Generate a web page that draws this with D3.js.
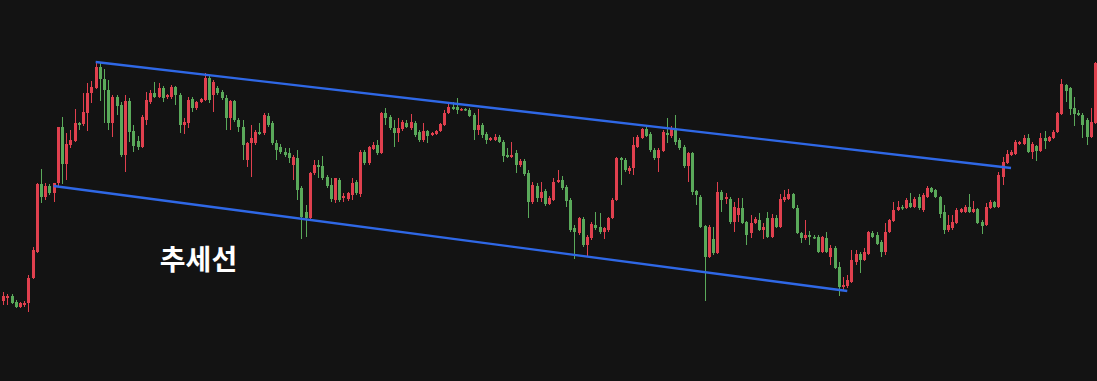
<!DOCTYPE html>
<html>
<head>
<meta charset="utf-8">
<script src="https://cdnjs.cloudflare.com/ajax/libs/d3/7.8.5/d3.min.js"></script>
<style>
	html, body { margin: 0; padding: 0; background: #131313; overflow: hidden; }
	#chart { display: block; }
</style>
</head>
<body>
<svg id="chart"></svg>
<script>

// candle data (one entry per candle, left to right)
let opens = [
	99, 102, 104, 98, 93, 95, 97, 122, 148, 216,
	203, 214, 207, 217, 273, 236, 255, 259, 277, 276,
	287, 307, 312, 333, 321, 310, 277, 303, 295, 245,
	299, 269, 259, 253, 280, 298, 307, 303, 312, 303,
	303, 313, 305, 275, 277, 301, 292, 298, 300, 322,
	305, 312, 308, 302, 282, 299, 280, 273, 240, 257,
	257, 268, 267, 284, 277, 257, 253, 248, 247, 235,
	242, 212, 188, 182, 227, 235, 234, 223, 215, 200,
	220, 202, 201, 205, 218, 206, 248, 237, 251, 255,
	247, 287, 283, 272, 267, 271, 277, 272, 277, 268,
	260, 269, 265, 266, 269, 275, 287, 293, 293, 290,
	291, 290, 285, 270, 275, 266, 260, 260, 263, 258,
	245, 243, 247, 235, 239, 227, 198, 214, 202, 209,
	196, 200, 218, 220, 213, 200, 172, 167, 181, 155,
	162, 175, 173, 168, 170, 182, 200, 242, 240, 229,
	232, 253, 262, 271, 266, 250, 242, 249, 267, 264,
	272, 260, 253, 234, 247, 209, 203, 174, 143, 161,
	147, 208, 201, 201, 178, 185, 192, 178, 167, 177,
	180, 170, 182, 163, 182, 173, 200, 201, 206, 192,
	167, 162, 165, 163, 163, 148, 162, 143, 152, 133,
	113, 114, 118, 138, 146, 140, 146, 167, 165, 158,
	148, 168, 179, 190, 193, 192, 197, 193, 203, 190,
	203, 212, 210, 203, 188, 170, 172, 177, 188, 188,
	193, 188, 191, 178, 175, 192, 198, 193, 223, 237,
	245, 246, 256, 256, 262, 248, 254, 249, 262, 259,
	262, 268, 286, 315, 312, 292, 287, 285, 280, 263,
	277
];
let highs = [
	108, 106, 106, 100, 98, 99, 125, 153, 217, 231,
	217, 216, 217, 273, 283, 267, 270, 291, 278, 307,
	317, 319, 338, 338, 331, 320, 305, 305, 298, 305,
	302, 275, 264, 285, 308, 310, 318, 317, 314, 306,
	315, 314, 307, 282, 303, 303, 299, 302, 327, 324,
	320, 314, 310, 305, 300, 300, 282, 280, 258, 275,
	270, 277, 287, 287, 279, 260, 256, 252, 252, 245,
	250, 214, 195, 228, 240, 240, 244, 225, 222, 222,
	222, 207, 208, 222, 220, 250, 250, 254, 258, 260,
	288, 292, 285, 280, 282, 280, 280, 286, 279, 270,
	277, 270, 268, 270, 277, 290, 297, 298, 302, 292,
	292, 292, 287, 291, 277, 268, 263, 266, 265, 260,
	252, 258, 250, 241, 241, 230, 218, 217, 218, 211,
	204, 222, 230, 224, 215, 202, 175, 183, 183, 165,
	178, 188, 187, 173, 183, 202, 243, 243, 242, 234,
	263, 265, 272, 273, 268, 252, 252, 270, 282, 274,
	285, 262, 255, 248, 248, 210, 205, 175, 175, 173,
	218, 210, 207, 203, 198, 202, 202, 179, 185, 183,
	187, 177, 188, 186, 185, 206, 210, 211, 207, 195,
	168, 180, 169, 165, 165, 164, 168, 155, 154, 138,
	123, 125, 150, 150, 148, 152, 169, 169, 168, 160,
	177, 181, 198, 199, 195, 202, 207, 203, 206, 207,
	214, 213, 211, 204, 195, 185, 185, 192, 192, 195,
	206, 199, 192, 180, 197, 200, 199, 228, 243, 250,
	250, 260, 259, 265, 266, 258, 255, 267, 269, 264,
	270, 288, 321, 316, 313, 303, 290, 287, 282, 292,
	338
];
let lows = [
	95, 95, 96, 92, 92, 93, 88, 121, 147, 197,
	200, 205, 198, 214, 216, 220, 252, 258, 270, 274,
	269, 297, 311, 299, 277, 270, 263, 285, 243, 228,
	258, 248, 250, 252, 275, 296, 302, 302, 298, 301,
	301, 295, 267, 266, 272, 288, 290, 297, 299, 297,
	288, 305, 300, 270, 270, 278, 268, 240, 233, 223,
	255, 265, 265, 273, 255, 240, 246, 243, 237, 220,
	200, 161, 163, 181, 225, 222, 220, 212, 198, 197,
	198, 198, 199, 200, 205, 203, 235, 235, 250, 245,
	246, 275, 270, 253, 258, 269, 272, 270, 263, 258,
	258, 257, 264, 265, 268, 274, 286, 290, 286, 289,
	289, 283, 260, 265, 262, 256, 259, 259, 257, 238,
	242, 242, 227, 233, 224, 182, 196, 198, 198, 194,
	195, 199, 217, 210, 193, 168, 141, 165, 153, 144,
	160, 170, 166, 161, 168, 181, 199, 215, 228, 226,
	225, 252, 261, 263, 248, 240, 228, 248, 257, 262,
	255, 250, 232, 218, 205, 195, 172, 99, 142, 145,
	146, 188, 196, 176, 168, 178, 176, 155, 162, 176,
	169, 161, 162, 162, 172, 172, 198, 200, 191, 166,
	157, 160, 155, 161, 147, 147, 147, 135, 131, 104,
	110, 112, 117, 135, 127, 139, 145, 162, 155, 143,
	145, 167, 178, 189, 190, 191, 192, 192, 190, 188,
	202, 207, 202, 182, 166, 168, 170, 176, 187, 187,
	187, 187, 176, 166, 174, 191, 192, 192, 215, 236,
	244, 245, 255, 255, 247, 241, 239, 248, 251, 258,
	261, 267, 285, 298, 285, 274, 284, 262, 255, 262,
	276
];
let closes = [
	104, 104, 97, 93, 97, 97, 122, 150, 216, 203,
	214, 207, 217, 273, 236, 256, 260, 277, 275, 288,
	307, 313, 333, 321, 310, 277, 303, 294, 245, 299,
	268, 254, 253, 283, 300, 307, 303, 312, 302, 305,
	313, 305, 275, 278, 300, 292, 298, 301, 322, 300,
	318, 307, 302, 282, 299, 280, 273, 255, 257, 262,
	268, 266, 285, 275, 257, 250, 248, 245, 242, 243,
	210, 183, 182, 227, 235, 233, 222, 214, 201, 222,
	200, 204, 207, 217, 207, 248, 237, 253, 255, 247,
	287, 282, 272, 267, 272, 278, 273, 278, 265, 260,
	269, 264, 267, 269, 276, 287, 293, 291, 290, 291,
	290, 284, 270, 275, 265, 260, 262, 263, 258, 244,
	243, 245, 235, 239, 226, 198, 215, 202, 208, 196,
	202, 218, 220, 212, 199, 170, 168, 182, 155, 163,
	176, 172, 168, 172, 182, 200, 242, 240, 230, 232,
	255, 263, 271, 264, 250, 242, 250, 268, 265, 272,
	258, 252, 234, 247, 208, 205, 173, 143, 173, 147,
	208, 200, 203, 178, 193, 192, 177, 165, 177, 181,
	170, 173, 163, 182, 173, 201, 203, 206, 192, 167,
	162, 165, 163, 162, 148, 163, 148, 152, 132, 113,
	115, 120, 140, 146, 140, 148, 168, 163, 156, 148,
	168, 180, 190, 193, 192, 200, 193, 201, 192, 205,
	212, 208, 203, 186, 170, 175, 178, 190, 191, 193,
	188, 191, 177, 174, 193, 198, 193, 225, 238, 246,
	248, 258, 258, 262, 248, 256, 249, 262, 259, 263,
	268, 287, 316, 309, 291, 286, 285, 275, 263, 278,
	337
];

// trend lines: [candle index, price] at each end
let upperTrend = [[22, 338], [240, 232]];
let lowerTrend = [[12, 214], [201, 109]];

let labelText = '추세선';

let width = 1097;
let height = 381;
let upColor = '#e0404e';
let downColor = '#5aa95a';
let lineColor = '#2f68e6';

drawChart();

function drawChart() {

	let svg = d3.select('#chart')
		.attr('width', width)
		.attr('height', height);

	svg.append('rect')
		.attr('width', width)
		.attr('height', height)
		.attr('fill', '#131313');

	// scales
	let xScale = d3.scaleLinear()
		.domain([0, opens.length - 1])
		.range([3.3, 1095]);
	let yScale = d3.scaleLinear()
		.domain([19, 400])
		.range([height, 0]);

	let candles = opens.map((o, i) => ({
		i: i, o: o, h: highs[i], l: lows[i], c: closes[i]
	}));

	let g = svg.append('g');

	// wicks
	g.selectAll('line.wick')
		.data(candles)
		.enter()
		.append('line')
		.attr('class', 'wick')
		.attr('x1', d => Math.round(xScale(d.i)) + 0.5)
		.attr('x2', d => Math.round(xScale(d.i)) + 0.5)
		.attr('y1', d => yScale(d.h))
		.attr('y2', d => yScale(d.l))
		.attr('stroke', d => d.c >= d.o ? upColor : downColor)
		.attr('stroke-width', 1);

	// bodies
	g.selectAll('rect.body')
		.data(candles)
		.enter()
		.append('rect')
		.attr('class', 'body')
		.attr('x', d => Math.round(xScale(d.i)) - 1)
		.attr('width', 3)
		.attr('y', d => yScale(Math.max(d.o, d.c)))
		.attr('height', d => Math.max(1.5, Math.abs(yScale(d.o) - yScale(d.c))))
		.attr('fill', d => d.c >= d.o ? upColor : downColor);

	// trend lines
	[upperTrend, lowerTrend].forEach(t => {
		svg.append('line')
			.attr('x1', xScale(t[0][0]))
			.attr('y1', yScale(t[0][1]))
			.attr('x2', xScale(t[1][0]))
			.attr('y2', yScale(t[1][1]))
			.attr('stroke', lineColor)
			.attr('stroke-width', 2.3);
	});

	// label
	svg.append('text')
		.attr('x', 198.5)
		.attr('y', 258)
		.attr('text-anchor', 'middle')
		.attr('dominant-baseline', 'central')
		.attr('fill', '#ffffff')
		.attr('font-family', '"Noto Sans CJK KR", sans-serif')
		.attr('font-weight', 'bold')
		.attr('font-size', 28)
		.text(labelText);
}
</script>
</body>
</html>
